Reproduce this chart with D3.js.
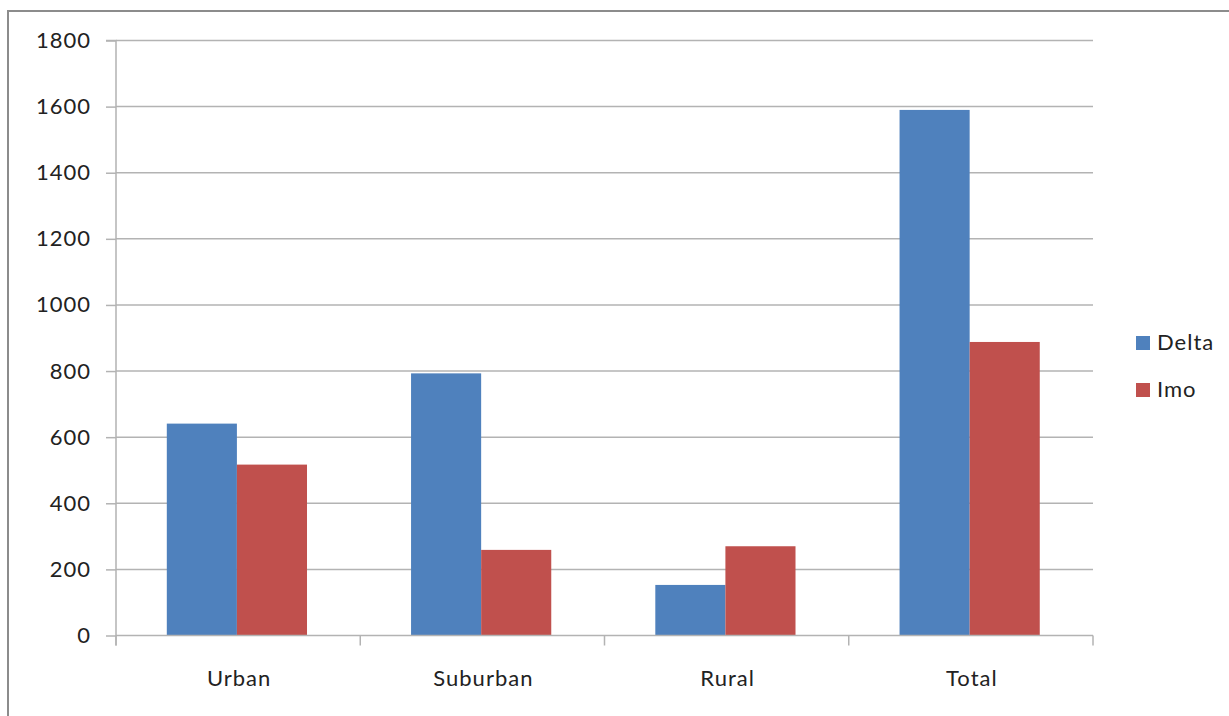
<!DOCTYPE html>
<html>
<head>
<meta charset="utf-8">
<script src="https://cdn.jsdelivr.net/npm/d3@7"></script>
<style>
  html, body { margin: 0; padding: 0; background: #fff; }
  svg { display: block; }
  text { letter-spacing: 1px; }
</style>
</head>
<body>
<svg id="chart" width="1229" height="716"></svg>
<script>
// Chart data
const categories = ["Urban", "Suburban", "Rural", "Total"];
const seriesNames = ["Delta", "Imo"];
const delta = [641, 793, 153, 1590];
const imo = [517, 259, 270, 888];
const yTicks = [0, 200, 400, 600, 800, 1000, 1200, 1400, 1600, 1800];
const colors = ["#4F81BD", "#C0504D"];

const svg = d3.select("#chart");
const font = "Lato, 'Open Sans', sans-serif";
const textColor = "#222";
const gridColor = "#b3b3b3";

// Outer frame
svg.append("rect")
  .attr("x", 8).attr("y", 11)
  .attr("width", 1240).attr("height", 720)
  .attr("fill", "#fff")
  .attr("stroke", "#8c8c8c").attr("stroke-width", 2);

const plotLeft = 116, plotRight = 1093, plotTop = 40.5, plotBottom = 635.5;

const y = d3.scaleLinear().domain([0, 1800]).range([plotBottom, plotTop]);
const x0 = d3.scaleBand().domain(categories).range([plotLeft, plotRight]).paddingInner(0).paddingOuter(0);
const x1 = d3.scaleBand().domain(seriesNames)
  .range([x0.bandwidth() * 0.208, x0.bandwidth() * 0.782]);

const rows = categories.map((c, i) => ({ cat: c, values: [delta[i], imo[i]] }));

// Gridlines
svg.append("g").selectAll("line")
  .data(yTicks.filter(t => t > 0))
  .join("line")
  .attr("x1", plotLeft).attr("x2", plotRight)
  .attr("y1", d => y(d)).attr("y2", d => y(d))
  .attr("stroke", gridColor).attr("stroke-width", 1.5);

// Bars
const groups = svg.append("g").selectAll("g")
  .data(rows).join("g")
  .attr("transform", d => `translate(${x0(d.cat)},0)`);

groups.selectAll("rect")
  .data(d => d.values.map((v, i) => ({ name: seriesNames[i], v, i })))
  .join("rect")
  .attr("x", d => x1(d.name))
  .attr("width", x1.bandwidth())
  .attr("y", d => y(d.v))
  .attr("height", d => y(0) - y(d.v))
  .attr("fill", d => colors[d.i]);

// Y axis
const yAxis = d3.axisLeft(y).tickValues(yTicks).tickSize(10).tickPadding(15).tickFormat(d3.format("d"));
const gy = svg.append("g").attr("transform", `translate(${plotLeft},0)`).call(yAxis);
gy.select(".domain").attr("stroke", gridColor).attr("stroke-width", 1.5).attr("d", `M-10,${plotTop}H0V${plotBottom + 10}`);
gy.selectAll(".tick line").attr("stroke", gridColor).attr("stroke-width", 1.5);
gy.selectAll(".tick text")
  .attr("font-family", font).attr("font-size", 22).attr("fill", textColor);

// X axis
const gx = svg.append("g").attr("transform", `translate(0,${plotBottom})`);
gx.append("line").attr("x1", plotLeft).attr("x2", plotRight).attr("y1", 0).attr("y2", 0)
  .attr("stroke", gridColor).attr("stroke-width", 1.5);
const boundaries = categories.map(c => x0(c)).concat([x0(categories[categories.length - 1]) + x0.bandwidth()]);
gx.selectAll("line.tk").data(boundaries).join("line").attr("class", "tk")
  .attr("x1", d => d).attr("x2", d => d).attr("y1", 0).attr("y2", 10)
  .attr("stroke", gridColor).attr("stroke-width", 1.5);
gx.selectAll("text").data(categories).join("text")
  .attr("x", d => x0(d) + x0.bandwidth() / 2 + 1)
  .attr("y", 50)
  .attr("text-anchor", "middle")
  .attr("font-family", font).attr("font-size", 22).attr("fill", textColor)
  .text(d => d);

// Legend
const legend = svg.append("g").selectAll("g").data(seriesNames).join("g")
  .attr("transform", (d, i) => `translate(1136,${336 + i * 47})`);
legend.append("rect").attr("width", 14).attr("height", 14).attr("fill", (d, i) => colors[i]);
legend.append("text").attr("x", 21).attr("y", 14)
  .attr("font-family", font).attr("font-size", 22).attr("fill", textColor)
  .text(d => d);
</script>
</body>
</html>
